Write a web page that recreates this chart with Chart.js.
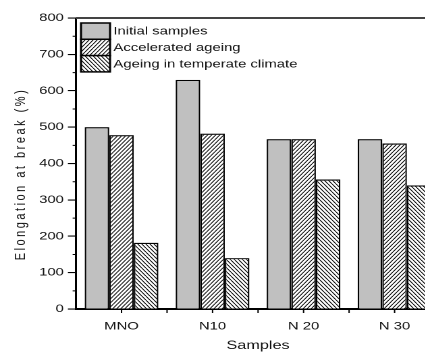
<!DOCTYPE html>
<html lang="en">
<head>
  <meta charset="UTF-8" />
  <script src="https://cdn.jsdelivr.net/npm/chart.js"></script>
  <title>Elongation at break</title>
  <style>
    html, body { margin: 0; padding: 0; overflow: hidden; background: #fff; }
    /* the reference is stretched sideways, so the chart is drawn narrow and widened */
    #wrap { width: 330px; height: 354px; transform: scaleX(1.35); transform-origin: 0 0; }
  </style>
</head>
<body>
  <div id="wrap"><canvas id="chart"></canvas></div>

  <script>
    const samples = ["MNO", "N10", "N 20", "N 30"];
    const seriesNames = ["Initial samples", "Accelerated ageing", "Ageing in temperate climate"];
    const initialSamples = [500, 630, 467, 467];
    const acceleratedAgeing = [478, 482, 467, 455];
    const temperateAgeing = [182, 140, 356, 340];
    const yTickValues = [0, 100, 200, 300, 400, 500, 600, 700, 800];

    const DPR = 2;
    const canvas = document.getElementById("chart");
    const mainCtx = canvas.getContext("2d");

    // diagonal hatch tile drawn at device resolution
    function hatch(forward) {
      const w = 6, h = 8;
      const c = document.createElement("canvas");
      c.width = w; c.height = h;
      const g = c.getContext("2d");
      g.fillStyle = "#fff";
      g.fillRect(0, 0, w, h);
      g.strokeStyle = "#000";
      g.lineWidth = 1.5;
      g.beginPath();
      for (let k = -1; k <= 1; k++) {
        if (forward) { g.moveTo(k * w, h); g.lineTo(k * w + w, 0); }
        else { g.moveTo(k * w, 0); g.lineTo(k * w + w, h); }
      }
      g.stroke();
      const p = mainCtx.createPattern(c, "repeat");
      p.setTransform(new DOMMatrix([1 / DPR, 0, 0, 1 / DPR, 0, 0]));
      return p;
    }

    Chart.defaults.font.family = "'Liberation Sans', Arial, sans-serif";
    Chart.defaults.color = "#111";

    const decor = {
      id: "decor",
      afterDraw(chart) {
        const { ctx, chartArea: a, scales: { x, y } } = chart;
        ctx.save();

        // top frame line
        ctx.strokeStyle = "#444";
        ctx.lineWidth = 2;
        ctx.beginPath();
        ctx.moveTo(a.left, a.top);
        ctx.lineTo(a.right, a.top);
        ctx.stroke();

        // minor y ticks
        ctx.strokeStyle = "#000";
        ctx.lineWidth = 1.1;
        ctx.beginPath();
        for (let i = 0; i < yTickValues.length - 1; i++) {
          const py = y.getPixelForValue((yTickValues[i] + yTickValues[i + 1]) / 2);
          ctx.moveTo(a.left - 2.5, py);
          ctx.lineTo(a.left, py);
        }
        // x ticks at centers and between
        ctx.lineWidth = 1;
        for (let i = 0; i < samples.length; i++) {
          const px = x.getPixelForValue(i);
          ctx.moveTo(px, a.bottom);
          ctx.lineTo(px, a.bottom + 4);
          if (i < samples.length - 1) {
            const pm = x.getPixelForValue(i + 0.5);
            ctx.moveTo(pm, a.bottom);
            ctx.lineTo(pm, a.bottom + 4);
          }
        }
        ctx.stroke();

        // legend
        const boxL = 60, boxW = 21.5, boxT = 23, boxH = 16.3;
        ctx.font = "11px 'Liberation Sans', Arial, sans-serif";
        ctx.textBaseline = "middle";
        ctx.textAlign = "left";
        chart.data.datasets.forEach((ds, i) => {
          const ty = boxT + i * boxH;
          ctx.fillStyle = ds.backgroundColor;
          ctx.fillRect(boxL, ty, boxW, boxH);
          ctx.strokeStyle = "#000";
          ctx.lineWidth = 1.5;
          ctx.strokeRect(boxL, ty, boxW, boxH);
          ctx.fillStyle = "#111";
          ctx.fillText(ds.label, boxL + boxW + 2.5, ty + boxH / 2 + 0.5);
        });

        // y axis title
        ctx.translate(15.6, 174);
        ctx.rotate(-Math.PI / 2);
        ctx.font = "11px 'Liberation Sans', Arial, sans-serif";
        ctx.letterSpacing = "2.5px";
        ctx.textAlign = "center";
        ctx.fillStyle = "#111";
        ctx.fillText("Elongation at break (%)", 0, 0);
        ctx.restore();
      }
    };

    new Chart(canvas, {
      type: "bar",
      data: {
        labels: samples,
        datasets: [
          { label: seriesNames[0], data: initialSamples, backgroundColor: "#c0c0c0" },
          { label: seriesNames[1], data: acceleratedAgeing, backgroundColor: hatch(true) },
          { label: seriesNames[2], data: temperateAgeing, backgroundColor: hatch(false) }
        ].map(d => Object.assign(d, { borderColor: "#000", borderWidth: 1.2, borderSkipped: "bottom" }))
      },
      options: {
        responsive: true,
        maintainAspectRatio: false,
        animation: false,
        devicePixelRatio: DPR,
        layout: { padding: { left: 0, top: 18, right: 4, bottom: 0 } },
        datasets: { bar: { barPercentage: 1, categoryPercentage: 0.81 } },
        plugins: { legend: { display: false }, tooltip: { enabled: false } },
        scales: {
          x: {
            grid: { display: false },
            border: { display: true, color: "#000", width: 2 },
            ticks: { padding: 3, font: { size: 11 }, color: "#111" },
            title: { display: true, text: "Samples", font: { size: 12 }, padding: { top: 0, bottom: 1 }, color: "#111" },
            afterFit(scale) { scale.height = 45; }
          },
          y: {
            min: yTickValues[0],
            max: yTickValues[yTickValues.length - 1],
            ticks: { stepSize: 100, padding: 3, font: { size: 11 }, color: "#111" },
            grid: { drawOnChartArea: false, drawTicks: true, tickLength: 6, color: "#000", lineWidth: 1.1 },
            border: { display: true, color: "#000", width: 1.5 },
            afterFit(scale) { scale.width = 56.3; }
          }
        }
      },
      plugins: [decor]
    });
  </script>
</body>
</html>
